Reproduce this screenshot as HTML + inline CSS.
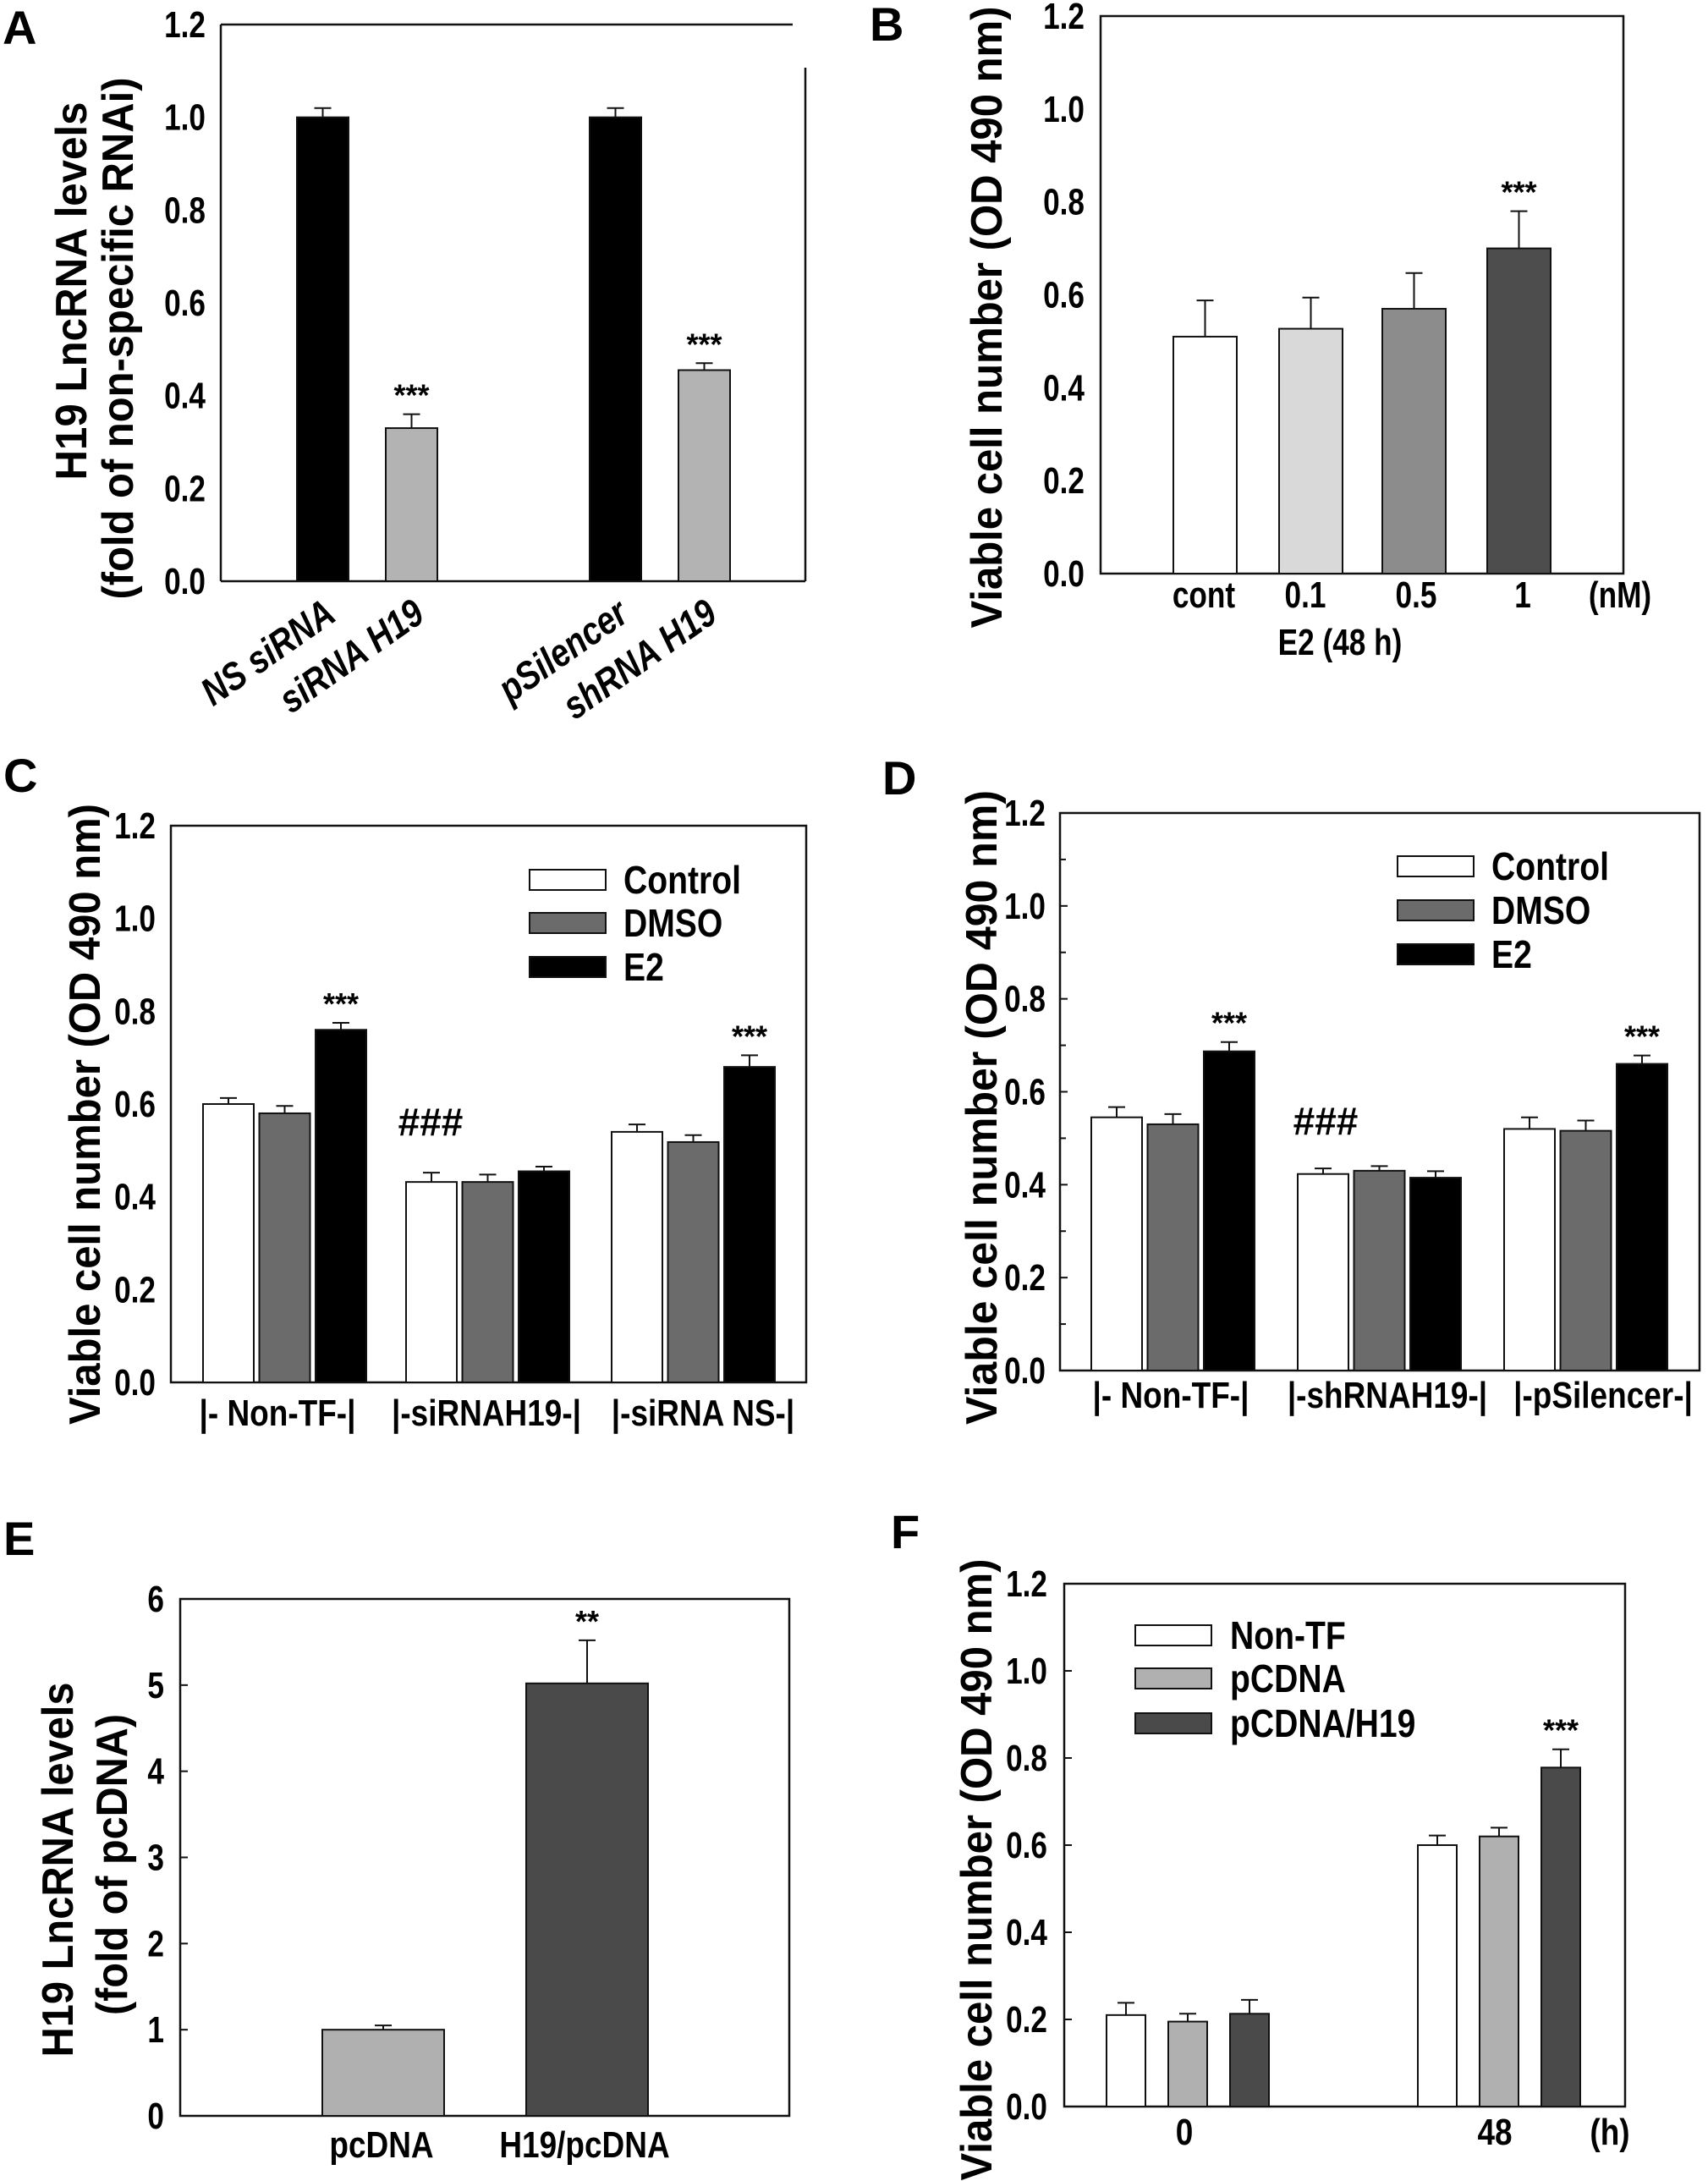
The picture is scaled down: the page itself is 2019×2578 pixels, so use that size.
<!DOCTYPE html>
<html><head><meta charset="utf-8">
<style>
html,body{margin:0;padding:0;background:#fff;}
svg{display:block;font-family:"Liberation Sans",Arial,sans-serif;font-weight:bold;}
</style></head>
<body>
<svg id="fig" width="2019" height="2578" viewBox="0 0 2019 2578" xmlns="http://www.w3.org/2000/svg">
<rect x="0" y="0" width="2019" height="2578" fill="#fff"/>
</svg>
<script>
// ---- Panel A data ----
const aCategories = ["NS siRNA", "siRNA H19", "pSilencer", "shRNA H19"];
const aValues = [1.0, 0.33, 1.0, 0.455];
const aErrors = [0.02, 0.03, 0.02, 0.015];
const aStars = ["", "***", "", "***"];
const aTicks = ["0.0", "0.2", "0.4", "0.6", "0.8", "1.0", "1.2"];
// ---- Panel B data ----
const bCategories = ["cont", "0.1", "0.5", "1"];
const bValues = [0.51, 0.527, 0.57, 0.70];
const bErrors = [0.078, 0.067, 0.077, 0.08];
const bStars = ["", "", "", "***"];
const bTicks = ["0.0", "0.2", "0.4", "0.6", "0.8", "1.0", "1.2"];
// ---- Panel C data ----
const cGroups = ["|- Non-TF-|", "|-siRNAH19-|", "|-siRNA NS-|"];
const cSeries = ["Control", "DMSO", "E2"];
const cControl = [0.60, 0.432, 0.54];
const cDMSO = [0.58, 0.432, 0.518];
const cE2 = [0.76, 0.455, 0.68];
const cControlErr = [0.013, 0.02, 0.016];
const cDMSOErr = [0.016, 0.016, 0.015];
const cE2Err = [0.015, 0.01, 0.025];
const cTicks = ["0.0", "0.2", "0.4", "0.6", "0.8", "1.0", "1.2"];
// ---- Panel D data ----
const dGroups = ["|- Non-TF-|", "|-shRNAH19-|", "|-pSilencer-|"];
const dSeries = ["Control", "DMSO", "E2"];
const dControl = [0.545, 0.423, 0.52];
const dDMSO = [0.53, 0.43, 0.516];
const dE2 = [0.687, 0.415, 0.66];
const dControlErr = [0.022, 0.012, 0.025];
const dDMSOErr = [0.022, 0.01, 0.022];
const dE2Err = [0.02, 0.014, 0.018];
const dTicks = ["0.0", "0.2", "0.4", "0.6", "0.8", "1.0", "1.2"];
// ---- Panel E data ----
const eCategories = ["pcDNA", "H19/pcDNA"];
const eValues = [1.0, 5.02];
const eErrors = [0.05, 0.5];
const eStars = ["", "**"];
const eTicks = ["0", "1", "2", "3", "4", "5", "6"];
// ---- Panel F data ----
const fGroups = ["0", "48"];
const fSeries = ["Non-TF", "pCDNA", "pCDNA/H19"];
const fNonTF = [0.21, 0.60];
const fPCDNA = [0.195, 0.62];
const fPCDNAH19 = [0.213, 0.778];
const fNonTFErr = [0.028, 0.022];
const fPCDNAErr = [0.018, 0.02];
const fPCDNAH19Err = [0.032, 0.042];
const fTicks = ["0.0", "0.2", "0.4", "0.6", "0.8", "1.0", "1.2"];

const NS = "http://www.w3.org/2000/svg";
const svg = document.getElementById("fig");
function mk(tag, attrs, parent) {
  const el = document.createElementNS(NS, tag);
  for (const k in attrs) el.setAttribute(k, attrs[k]);
  (parent || svg).appendChild(el);
  return el;
}
function txt(s, attrs, parent) { const t = mk("text", attrs, parent); t.textContent = s; return t; }
// condensed text: shrink natural width
function cond(t, f) {
  const w = t.getComputedTextLength();
  if (w > 0) { t.setAttribute("textLength", (w * (f || 0.84)).toFixed(1)); t.setAttribute("lengthAdjust", "spacingAndGlyphs"); }
}
function scale(p) { return v => p.bottom - (v - p.min) / (p.max - p.min) * (p.bottom - p.top); }

function axes(p, name, ticks) {
  const g = mk("g", {});
  
  
  if (p.openTop) {
    mk("line", {x1: p.left, y1: p.top, x2: p.topEnd, y2: p.top, stroke: "#111", "stroke-width": 2.5}, g);
    mk("line", {x1: p.right, y1: p.rightStart, x2: p.right, y2: p.bottom, stroke: "#111", "stroke-width": 2.5}, g);
    mk("line", {x1: p.left, y1: p.top, x2: p.left, y2: p.bottom, stroke: "#111", "stroke-width": 2.5}, g);
    mk("line", {x1: p.left, y1: p.bottom, x2: p.right, y2: p.bottom, stroke: "#111", "stroke-width": 2.5}, g);
  } else {
    mk("rect", {x: p.left, y: p.top, width: p.right - p.left, height: p.bottom - p.top, fill: "none", stroke: "#111", "stroke-width": 2.5}, g);
  }
  const y = scale(p);
  const n = ticks.length;
  for (let i = 0; i < n; i++) {
    const v = p.min + i * (p.max - p.min) / (n - 1);
    const t = txt(ticks[i], {x: p.tickX, y: y(v) + 15, "text-anchor": "end", "font-size": 44}, g);
    
    
    cond(t, 0.8);
    if (p.ticks) mk("line", {x1: p.left, y1: y(v), x2: p.left + 9, y2: y(v), stroke: "#111", "stroke-width": 2}, g);
    if (p.minor && i < n - 1) {
      const vm = v + (p.max - p.min) / (n - 1) / 2;
      mk("line", {x1: p.left, y1: y(vm), x2: p.left + 7, y2: y(vm), stroke: "#111", "stroke-width": 2}, g);
    }
  }
  return y;
}
function bar(p, y, x0, w, v, err, fill, name) {
  const b = mk("rect", {x: x0, y: y(v), width: w, height: p.bottom - y(v), fill: fill, stroke: "#111", "stroke-width": 2});
  
  
  const cx = x0 + w / 2;
  const e = mk("path", {d: `M${cx},${y(v)} V${y(v + err)} M${cx - 10},${y(v + err)} H${cx + 10}`, stroke: "#111", "stroke-width": 2, fill: "none"});
  
  
  return y(v + err);
}
function star(s, cx, yTop) {
  if (!s) return;
  const t = txt(s, {x: cx, y: yTop - 10, "text-anchor": "middle", "font-size": 36});
  
  
}
function ylabel(lines, xs, cy, lens, name) {
  lines.forEach((s, i) => {
    const t = txt(s, {x: 0, y: 0, transform: `translate(${xs[i]},${cy[i]}) rotate(-90)`, "text-anchor": "middle", "font-size": 52, textLength: lens[i], lengthAdjust: "spacingAndGlyphs"});
    
    
  });
}
function panelLetter(s, x, y) {
  const t = txt(s, {x: x, y: y, "font-size": 56});
  
  
}
function legend(items, fills, bx, tx, rows, name) {
  items.forEach((s, i) => {
    const r = mk("rect", {x: bx, y: rows[i] - 12, width: 90, height: 24, fill: fills[i], stroke: "#111", "stroke-width": 2});
    
    
    const t = txt(s, {x: tx, y: rows[i] + 16, "font-size": 46});
    
    
    cond(t, 0.85);
  });
}

// ===== Panel A =====
(function(){
  const p = {left: 261, right: 952, top: 29, bottom: 687, min: 0, max: 1.2, tickX: 243, openTop: true, topEnd: 937, rightStart: 80};
  const y = axes(p, "panel-a", aTicks);
  const xs = [351, 456, 697, 802], w = 61;
  const fills = ["#000", "#b3b3b3", "#000", "#b3b3b3"];
  aCategories.forEach((c, i) => {
    const top = bar(p, y, xs[i], w, aValues[i], aErrors[i], fills[i], "bar-" + c.toLowerCase().replace(/\s+/g, "-"));
    star(aStars[i], xs[i] + w / 2, top);
    const cx = xs[i] + w / 2 + 18;
    const t = txt(c, {x: 0, y: 0, transform: `translate(${cx},732) rotate(-35)`, "text-anchor": "end", "font-size": 46, "font-style": "italic"});
    
    
    cond(t, 0.84);
  });
  ylabel(["H19 LncRNA levels", "(fold of non-specific RNAi)"], [102, 157], [344, 400], [447, 617], "y-axis-title");
  panelLetter("A", 3, 52);
})();

// ===== Panel B =====
(function(){
  const p = {left: 1301, right: 1919, top: 19, bottom: 678, min: 0, max: 1.2, tickX: 1282};
  const y = axes(p, "panel-b", bTicks);
  const xs = [1387, 1512, 1634, 1758], w = 75;
  const fills = ["#fff", "#d9d9d9", "#8c8c8c", "#4d4d4d"];
  const lx = [1423, 1543, 1674, 1800];
  bCategories.forEach((c, i) => {
    const top = bar(p, y, xs[i], w, bValues[i], bErrors[i], fills[i], "bar-" + c);
    star(bStars[i], xs[i] + w / 2, top);
    const t = txt(c, {x: lx[i], y: 718, "text-anchor": "middle", "font-size": 44});
    
    
    cond(t, 0.8);
  });
  let t = txt("(nM)", {x: 1915, y: 718, "text-anchor": "middle", "font-size": 44});
  
  
  cond(t, 0.8);
  t = txt("E2 (48 h)", {x: 1584, y: 774, "text-anchor": "middle", "font-size": 44});
  
  
  cond(t, 0.8);
  ylabel(["Viable cell number (OD 490 nm)"], [1184], [375], [735], "y-axis-title");
  panelLetter("B", 1028, 48);
})();

// ===== grouped panels =====
function grouped(p, name, ticks, groups, series, errs, fills, starIdx, groupStarts, w, gap, labelX, labelY) {
  const y = axes(p, name, ticks);
  groups.forEach((g, gi) => {
    series.forEach((s, si) => {
      const x0 = groupStarts[gi] + si * (w + gap);
      const top = bar(p, y, x0, w, s[gi], errs[si][gi], fills[si], name + "-bar");
      if (starIdx && starIdx[gi] && si === starIdx[gi].series) star(starIdx[gi].text, x0 + w / 2, top);
    });
    const t = txt(g, {x: labelX[gi], y: labelY, "text-anchor": "middle", "font-size": 44});
    
    
    cond(t, 0.84);
  });
  return y;
}

// ===== Panel C =====
(function(){
  const p = {left: 202, right: 953, top: 976, bottom: 1634, min: 0, max: 1.2, tickX: 184};
  const stars = [{series: 2, text: "***"}, null, {series: 2, text: "***"}];
  grouped(p, "panel-c", cTicks, cGroups, [cControl, cDMSO, cE2], [cControlErr, cDMSOErr, cE2Err],
    ["#fff", "#6b6b6b", "#000"], stars, [240, 480, 723], 60, 6.5, [328, 575, 831], 1685);
  const h = txt("###", {x: 509, y: 1342, "text-anchor": "middle", "font-size": 46});
  
  
  legend(cSeries, ["#fff", "#6b6b6b", "#000"], 626, 737, [1040, 1091, 1143], "legend");
  ylabel(["Viable cell number (OD 490 nm)"], [118], [1317], [734], "y-axis-title");
  panelLetter("C", 4, 936);
})();

// ===== Panel D =====
(function(){
  const p = {left: 1253, right: 2009, top: 961, bottom: 1620, min: 0, max: 1.2, tickX: 1236, minor: true, ticks: true};
  const stars = [{series: 2, text: "***"}, null, {series: 2, text: "***"}];
  grouped(p, "panel-d", dTicks, dGroups, [dControl, dDMSO, dE2], [dControlErr, dDMSOErr, dE2Err],
    ["#fff", "#6b6b6b", "#000"], stars, [1290, 1534, 1778], 60, 6.5, [1384, 1640, 1895], 1664);
  const h = txt("###", {x: 1567, y: 1341, "text-anchor": "middle", "font-size": 46});
  
  
  legend(dSeries, ["#fff", "#6b6b6b", "#000"], 1652, 1763, [1024, 1076, 1128], "legend");
  ylabel(["Viable cell number (OD 490 nm)"], [1178], [1309], [750], "y-axis-title");
  panelLetter("D", 1043, 939);
})();

// ===== Panel E =====
(function(){
  const p = {left: 213, right: 933, top: 1890, bottom: 2501, min: 0, max: 6, tickX: 194, ticks: true};
  const y = axes(p, "panel-e", eTicks);
  const xs = [381, 622], w = 144;
  const fills = ["#b0b0b0", "#4a4a4a"];
  const lx = [451, 691];
  eCategories.forEach((c, i) => {
    const top = bar(p, y, xs[i], w, eValues[i], eErrors[i], fills[i], "bar-" + c.toLowerCase().replace("/", "-"));
    star(eStars[i], xs[i] + w / 2, top);
    const t = txt(c, {x: lx[i], y: 2550, "text-anchor": "middle", "font-size": 44});
    
    
    cond(t, 0.84);
  });
  ylabel(["H19 LncRNA levels", "(fold of pcDNA)"], [86, 150], [2210, 2204], [443, 356], "y-axis-title");
  panelLetter("E", 4, 1838);
})();

// ===== Panel F =====
(function(){
  const p = {left: 1258, right: 1921, top: 1872, bottom: 2490, min: 0, max: 1.2, tickX: 1238, ticks: true};
  const stars = [null, {series: 2, text: "***"}];
  grouped(p, "panel-f", fTicks, fGroups, [fNonTF, fPCDNA, fPCDNAH19], [fNonTFErr, fPCDNAErr, fPCDNAH19Err],
    ["#fff", "#b0b0b0", "#4a4a4a"], stars, [1308, 1676], 46, 27, [1400, 1767], 2535);
  const t = txt("(h)", {x: 1903, y: 2535, "text-anchor": "middle", "font-size": 44});
  
  
  cond(t, 0.84);
  legend(fSeries, ["#fff", "#b0b0b0", "#4a4a4a"], 1342, 1454, [1933, 1984, 2037], "legend");
  ylabel(["Viable cell number (OD 490 nm)"], [1172], [2210], [735], "y-axis-title");
  panelLetter("F", 1053, 1830);
})();
</script>
</body></html>
